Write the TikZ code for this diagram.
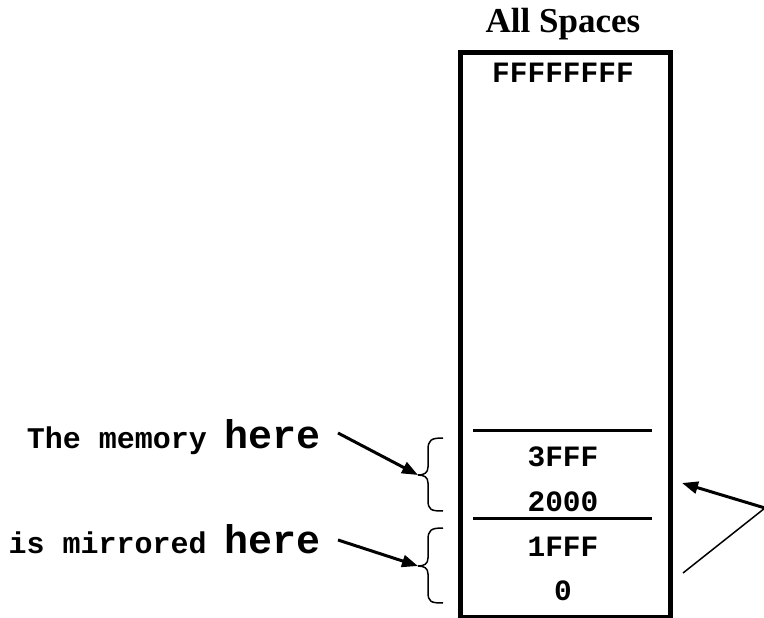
\documentclass[tikz,border=0pt]{standalone}
\usepackage{fontspec}
\setmainfont{Liberation Serif}
\setmonofont{Liberation Mono}
\usetikzlibrary{arrows.meta}
\begin{document}
\begin{tikzpicture}[x=1pt,y=-1pt,
  hex/.style={font=\fontsize{29.5}{29.5}\selectfont\ttfamily\bfseries, inner sep=0pt, anchor=base},
  lbl/.style={font=\fontsize{30}{30}\selectfont\ttfamily\bfseries, inner sep=0pt, anchor=base east},
  thickarrow/.style={line width=3pt, -{Triangle[length=16pt,width=12pt]}},
  bracepath/.style={line width=1.5pt},
]
\useasboundingbox (0,0) rectangle (764,618);
% memory box
\node[draw, line width=5pt, minimum width=210.5pt, minimum height=564.5pt, inner sep=0pt, anchor=north west] (mem) at (457.5,50.5) {};
\node[font=\fontsize{35}{35}\selectfont\bfseries, inner sep=0pt, anchor=base] (title) at (563,33) {All Spaces};
\node[hex] (top) at (563,83) {FFFFFFFF};
\node[hex] (h3fff) at (563,466) {3FFF};
\node[hex] (h2000) at (563,511) {2000};
\node[hex] (h1fff) at (563,556) {1FFF};
\node[hex] (h0) at (563,600) {0};
% dividers
\coordinate (d1a) at (473,430); \coordinate (d1b) at (652,430);
\coordinate (d2a) at (473,518); \coordinate (d2b) at (652,518);
\draw[line width=3pt] (d1a) -- (d1b);
\draw[line width=3pt] (d2a) -- (d2b);
% braces
\coordinate (b1) at (418,475);
\coordinate (b2) at (418,566);
\draw[bracepath] (443,438) .. controls (431,438) and (428,440) .. (428,450) -- (428,467)
  .. controls (428,473) and (424,475) .. (b1)
  .. controls (424,475) and (428,477) .. (428,483) -- (428,500)
  .. controls (428,510) and (431,511) .. (443,511);
\draw[bracepath] (443,528) .. controls (431,528) and (428,530) .. (428,540) -- (428,558)
  .. controls (428,564) and (424,566) .. (b2)
  .. controls (424,566) and (428,568) .. (428,574) -- (428,592)
  .. controls (428,602) and (431,603) .. (443,603);
% left labels
\node[lbl] (l1) at (321,448) {The memory {\fontsize{40}{40}\selectfont here}};
\node[lbl] (l2) at (321,553) {is mirrored {\fontsize{40}{40}\selectfont here}};
\coordinate (s1) at (338,433);
\coordinate (s2) at (338,540);
\draw[thickarrow] (s1) -- (b1);
\draw[thickarrow] (s2) -- (b2);
% right arrows
\coordinate (r) at (765,508);
\coordinate (rt) at (682,483);
\coordinate (rb) at (683,573);
\draw[thickarrow] (r) -- (rt);
\draw[line width=1.5pt] (r) -- (rb);
\end{tikzpicture}
\end{document}
